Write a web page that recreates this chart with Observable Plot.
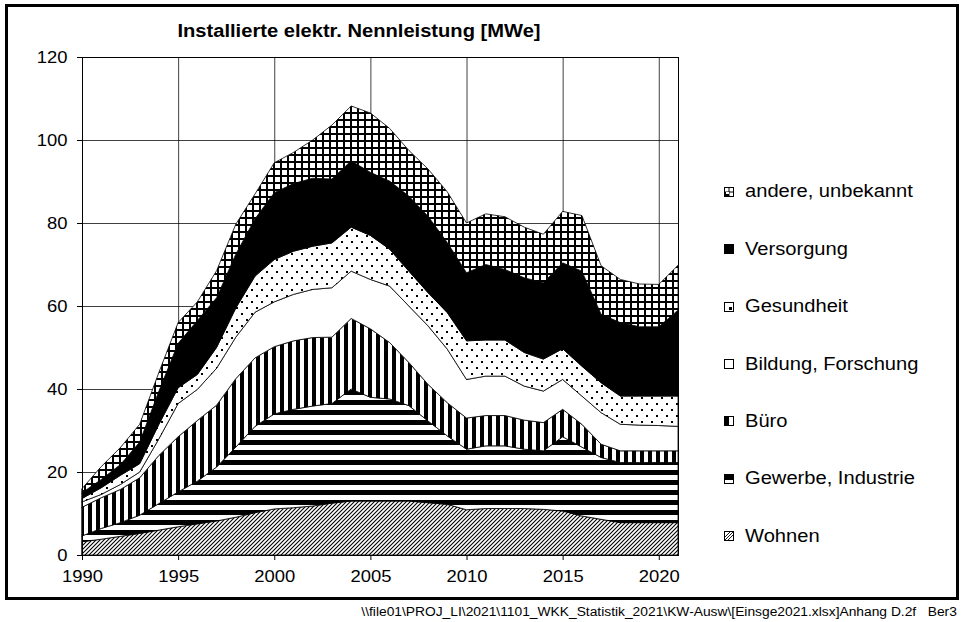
<!DOCTYPE html>
<html><head><meta charset="utf-8">
<script src="https://cdn.jsdelivr.net/npm/d3@7"></script>
<script src="https://cdn.jsdelivr.net/npm/@observablehq/plot@0.6"></script>
<style>
html,body{margin:0;padding:0;background:#fff;}
#wrap{position:relative;width:961px;height:622px;overflow:hidden;font-family:Arial,"Liberation Sans",sans-serif;color:#000;}
#frame{position:absolute;left:5px;top:4px;width:954px;height:596px;border:3px solid #000;box-sizing:border-box;}
#chart{position:absolute;left:0;top:0;}
.t{position:absolute;white-space:pre;line-height:1;}
#title{font-weight:bold;font-size:17.5px;left:358.5px;top:23.2px;transform:translateX(-50%) scaleX(1.15);transform-origin:center;}
#caption{font-size:12px;right:4px;top:605.8px;transform:scaleX(1.15);transform-origin:right;}
.lg{font-size:17.5px;left:745px;transform:scaleX(1.15);transform-origin:left;}
.sw{position:absolute;left:724px;width:10px;height:10px;}
</style></head><body>
<svg width="0" height="0" style="position:absolute">
<defs>
<pattern id="pW" patternUnits="userSpaceOnUse" width="4" height="4">
<rect width="4" height="4" fill="#fff"/>
<path d="M-1,1 L1,-1 M0,4 L4,0 M3,5 L5,3" stroke="#000" stroke-width="1.1"/>
</pattern>
<pattern id="pG" patternUnits="userSpaceOnUse" width="10" height="10">
<rect width="10" height="10" fill="#fff"/><rect width="10" height="5" fill="#000"/>
</pattern>
<pattern id="pB" patternUnits="userSpaceOnUse" width="8" height="10">
<rect width="8" height="10" fill="#fff"/><rect width="4" height="10" fill="#000"/>
</pattern>
<pattern id="pGe" patternUnits="userSpaceOnUse" width="10" height="12">
<rect width="10" height="12" fill="#fff"/><rect x="1" y="1" width="2" height="2" fill="#000"/><rect x="6" y="7" width="2" height="2" fill="#000"/>
</pattern>
<pattern id="pA" patternUnits="userSpaceOnUse" width="7" height="7">
<rect width="7" height="7" fill="#fff"/><rect width="2" height="7" fill="#000"/><rect width="7" height="2" fill="#000"/>
</pattern>
</defs></svg>
<div id="wrap">
<div id="chart"></div>
<div id="frame"></div>
<div id="title" class="t">Installierte elektr. Nennleistung [MWe]</div>
<div id="legend"></div>
<div id="caption" class="t">\\file01\PROJ_LI\2021\1101_WKK_Statistik_2021\KW-Ausw\[Einsge2021.xlsx]Anhang D.2f   Ber3</div>
</div>
<script>
// ---- data ----
const years = [1990,1991,1992,1993,1994,1995,1996,1997,1998,1999,2000,2001,2002,2003,2004,2005,2006,2007,2008,2009,2010,2011,2012,2013,2014,2015,2016,2017,2018,2019,2020,2021];
const categories = ["Wohnen","Gewerbe, Industrie","Büro","Bildung, Forschung","Gesundheit","Versorgung","andere, unbekannt"];
const wohnen     = [3.2,3.8,4.5,5.2,6.0,6.8,7.5,8.2,9.1,10.2,11.1,11.4,11.8,12.5,13.0,13.0,13.0,13.0,12.6,12.2,10.9,11.2,11.2,11.2,11.0,10.6,9.4,8.6,7.8,7.8,7.8,7.8];
const gewerbe    = [1.4,2.6,3.3,4.4,6.4,8.4,10.3,13.0,16.9,20.8,22.9,23.7,24.1,24.0,27.0,25.0,24.6,23.0,19.7,16.5,14.6,15.1,15.1,14.3,14.1,17.9,16.6,14.9,14.5,14.5,14.5,14.5];
const buero      = [6.9,7.4,8.0,9.0,11.6,13.3,14.6,14.9,16.5,16.5,16.2,16.5,16.5,16.0,17.0,16.5,13.6,10.4,8.8,8.0,7.5,7.3,7.3,7.0,6.8,6.6,5.5,3.2,2.8,2.8,2.8,2.8];
const bildung    = [1.3,0.8,1.2,1.4,4.0,8.0,7.5,8.9,10.0,11.0,10.8,11.2,11.6,11.9,11.4,11.9,13.6,13.6,14.1,12.9,9.3,9.5,9.5,8.2,7.6,7.2,6.8,7.6,6.4,6.2,6.1,5.9];
const gesundheit = [0.8,1.6,2.2,2.0,3.5,3.8,3.6,5.0,7.0,8.7,10.2,10.4,10.4,10.8,10.6,10.6,8.9,8.4,8.0,8.8,9.3,8.7,8.7,8.1,7.7,7.4,7.2,7.2,6.8,7.0,7.1,7.3];
const versorgung = [1.4,2.0,2.6,5.2,8.0,10.7,13.0,12.0,13.0,13.8,16.1,16.3,16.4,15.4,16.0,15.2,16.4,18.1,18.4,16.9,16.4,18.2,17.0,18.0,18.4,20.7,22.9,16.5,17.7,16.7,16.7,20.7];
const andere     = [1.0,3.1,4.1,4.3,4.5,5.0,4.5,6.5,7.2,6.0,7.2,7.5,9.2,13.0,13.2,14.3,12.7,11.0,11.4,12.2,12.0,12.2,12.7,12.2,11.7,12.4,13.4,11.7,10.4,10.3,10.2,10.8];
const xTicks = [1990,1995,2000,2005,2010,2015,2020];
const yTicks = [0,20,40,60,80,100,120];

const seriesValues = [wohnen, gewerbe, buero, bildung, gesundheit, versorgung, andere];
const fills = ["url(#pW)","url(#pG)","url(#pB)","#fff","url(#pGe)","#000","url(#pA)"];
const data = categories.flatMap((c, i) => years.map((yr, j) => ({year: yr, category: c, value: seriesValues[i][j]})));

const chart = Plot.plot({
  width: 961, height: 600,
  marginLeft: 82, marginRight: 283, marginTop: 57, marginBottom: 45,
  style: {fontFamily: "Arial, 'Liberation Sans', sans-serif", fontSize: "16px", color: "#000", background: "transparent", overflow: "visible"},
  x: {domain: [1990, 2021], label: null},
  y: {domain: [0, 120], label: null},
  color: {type: "ordinal", domain: categories, range: fills},
  marks: [
    Plot.gridX(xTicks.slice(1), {stroke: "#000", strokeOpacity: 0.75}),
    Plot.gridY(yTicks.slice(1), {stroke: "#000", strokeOpacity: 0.75}),
    Plot.areaY(data, {x: "year", y: "value", fill: "category", z: "category", order: categories, stroke: "#000", strokeWidth: 0.8}),
    Plot.frame({stroke: "#000", strokeWidth: 1}),
    Plot.axisX(xTicks, {tickFormat: d => String(d), tickSize: 5, tickPadding: 10, label: null}),
    Plot.axisY(yTicks, {tickSize: 5, tickPadding: 10, label: null})
  ]
});
document.getElementById("chart").append(chart);
chart.querySelectorAll("text").forEach(t => {
  const w = t.getComputedTextLength();
  if (w > 0) { t.setAttribute("textLength", (w * 1.15).toFixed(2)); t.setAttribute("lengthAdjust", "spacingAndGlyphs"); }
});

// ---- legend (top = last category) ----
const swatches = {
  "andere, unbekannt": '<rect x="0.5" y="0.5" width="9" height="9" fill="#fff" stroke="#000"/><path d="M5,0V10M0,5H10" stroke="#000"/><rect x="1" y="5" width="4" height="4" fill="url(#pA)"/>',
  "Versorgung": '<rect x="0" y="0" width="10" height="10" fill="#000"/>',
  "Gesundheit": '<rect x="0.5" y="0.5" width="9" height="9" fill="#fff" stroke="#000"/><rect x="5" y="5" width="3" height="3" fill="#000"/>',
  "Bildung, Forschung": '<rect x="0.5" y="0.5" width="9" height="9" fill="#fff" stroke="#000"/>',
  "Büro": '<rect x="0.5" y="0.5" width="9" height="9" fill="#fff" stroke="#000"/><rect x="0" y="0" width="5" height="10" fill="#000"/>',
  "Gewerbe, Industrie": '<rect x="0.5" y="0.5" width="9" height="9" fill="#fff" stroke="#000"/><rect x="0" y="0" width="10" height="6" fill="#000"/>',
  "Wohnen": '<rect x="0.5" y="0.5" width="9" height="9" fill="#fff" stroke="#000"/><path d="M1,6L6,1M1,9L9,1M4,9L9,4" stroke="#000" stroke-width="0.9"/>'
};
const legend = document.getElementById("legend");
categories.slice().reverse().forEach((c, i) => {
  const baseline = 198.3 + 57.4 * i;
  const sw = document.createElementNS("http://www.w3.org/2000/svg", "svg");
  sw.setAttribute("class", "sw"); sw.setAttribute("width", 10); sw.setAttribute("height", 10);
  sw.style.top = (baseline - 11.6) + "px";
  sw.innerHTML = swatches[c];
  legend.append(sw);
  const d = document.createElement("div");
  d.className = "t lg";
  d.style.top = (baseline - 0.8465 * 17.5) + "px";
  d.textContent = c;
  legend.append(d);
});
</script>
</body></html>
